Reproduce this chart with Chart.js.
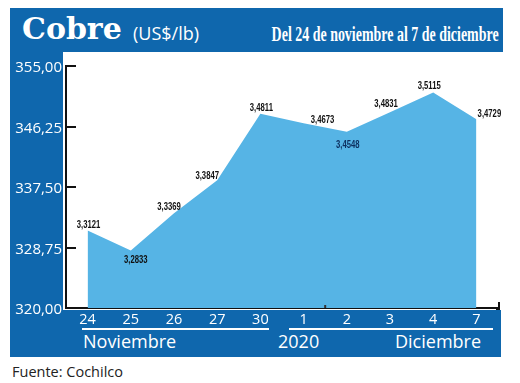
<!DOCTYPE html>
<html lang="es">

<head>
  <meta charset="UTF-8" />
  <title>Cobre (US$/lb)</title>
  <script src="https://cdn.jsdelivr.net/npm/chart.js@4.4.1/dist/chart.umd.min.js"></script>
  <style>
    body { margin: 0; background: #fff; }
    #wrap { position: relative; width: 520px; height: 383px; overflow: hidden; }
    .band { position: absolute; background: #0f67ad; }
    .txt { position: absolute; white-space: nowrap; line-height: 1; }
    .rule { position: absolute; height: 2px; background: #fff; }
    canvas { position: absolute; left: 0; top: 0; }
  </style>
</head>

<body>
  <div id="wrap">
    <div class="band" style="left:10px; top:8px; width:493px; height:44px;"></div>
    <div class="band" style="left:10px; top:8px; width:53px; height:349px;"></div>
    <div class="band" style="left:10px; top:310px; width:491px; height:47px;"></div>

    <div class="txt" style="left:22px; top:11px; font: bold 30px 'DejaVu Serif', serif; color:#fff;">Cobre</div>
    <div class="txt" style="left:133px; top:21px; font: 18px 'Open Sans', sans-serif; color:#fff;">(US$/lb)</div>
    <div class="txt" id="subtitle" style="right:21px; top:22px; font: bold 21px 'Liberation Serif', serif; color:#fff; transform-origin: right center;">Del 24 de noviembre al 7 de diciembre</div>

    <div class="rule" style="left:82px; top:328px; width:187px;"></div>
    <div class="rule" style="left:289px; top:328px; width:204px;"></div>
    <div class="txt" style="left:83px; top:329px; font: 18px 'Open Sans', sans-serif; color:#fff;">Noviembre</div>
    <div class="txt" style="left:278px; top:329px; font: 18px 'Open Sans', sans-serif; color:#fff;">2020</div>
    <div class="txt" style="left:395px; top:329px; font: 18px 'Open Sans', sans-serif; color:#fff;">Diciembre</div>

    <div class="txt" style="left:12px; top:362px; font: 14.5px 'Open Sans', sans-serif; color:#222;">Fuente: Cochilco</div>

    <canvas id="myChart" width="520" height="383"></canvas>
  </div>

  <script>
    // dias del periodo (24 nov - 7 dic 2020)
    const days = ['24', '25', '26', '27', '30', '1', '2', '3', '4', '7'];
    // precio del cobre, US$/lb
    const prices = [3.3121, 3.2833, 3.3369, 3.3847, 3.4811, 3.4673, 3.4548, 3.4831, 3.5115, 3.4729];
    // eje y en centavos
    const yMin = 320;
    const yMax = 355;
    const yStep = 8.75;

    // where each value label sits relative to its point [dx, dy]
    const labelShift = [[1, -6], [5, 10], [-5, -6], [-10, -4], [1, -6], [19, -3], [1, 13], [-4, -8], [-4, -7], [13, -5]];

    const comma = (v, d) => v.toFixed(d).replace('.', ',');

    // squeeze the subtitle to its width in the original
    const sub = document.getElementById('subtitle');
    sub.style.transform = 'scaleX(' + (227 / sub.getBoundingClientRect().width) + ')';

    const decor = {
      id: 'decor',
      afterDraw(chart) {
        const { ctx, chartArea, scales: { x, y } } = chart;
        ctx.save();
        ctx.strokeStyle = '#111';
        ctx.lineWidth = 2;
        // inward tick marks on the y axis
        y.ticks.forEach(t => {
          const py = Math.round(y.getPixelForValue(t.value));
          ctx.beginPath();
          ctx.moveTo(chartArea.left - 1, py);
          ctx.lineTo(chartArea.left + 10, py);
          ctx.stroke();
        });
        // right end of the x axis
        const b = chartArea.bottom + 1;
        ctx.beginPath();
        ctx.moveTo(chartArea.right - 2, b);
        ctx.lineTo(chartArea.right + 1, b);
        ctx.lineTo(chartArea.right + 1, b - 7);
        ctx.stroke();
        // small mark between 1 and 2
        const mx = (x.getPixelForValue(5) + x.getPixelForValue(6)) / 2;
        ctx.fillStyle = '#333';
        ctx.fillRect(mx - 1, b - 4, 2, 3);

        // value labels
        const pts = chart.getDatasetMeta(0).data;
        ctx.font = "bold 11px 'Liberation Sans', sans-serif";
        ctx.textAlign = 'center';
        ctx.textBaseline = 'middle';
        pts.forEach((p, i) => {
          ctx.save();
          ctx.translate(p.x + labelShift[i][0], p.y + labelShift[i][1]);
          ctx.scale(0.7, 1);
          ctx.fillStyle = i === 6 ? '#0d2f5e' : '#111';
          ctx.fillText(comma(prices[i], 4), 0, 0);
          ctx.restore();
        });
        ctx.restore();
      }
    };

    new Chart(document.getElementById('myChart'), {
      type: 'line',
      data: {
        labels: days,
        datasets: [{
          data: prices.map(p => p * 100),
          fill: 'start',
          backgroundColor: '#56b4e5',
          borderWidth: 0,
          pointRadius: 0,
          tension: 0
        }]
      },
      options: {
        responsive: false,
        devicePixelRatio: 1,
        animation: false,
        layout: { padding: { left: 10, right: 22, top: 66, bottom: 50 } },
        plugins: { legend: { display: false }, tooltip: { enabled: false } },
        scales: {
          x: {
            offset: true,
            grid: { display: false, drawTicks: false },
            border: { color: '#111', width: 2 },
            ticks: {
              color: '#fff',
              padding: 3,
              maxRotation: 0,
              font: { family: "'Open Sans', sans-serif", size: 14.5 }
            },
            afterFit(scale) { scale.height = 25; }
          },
          y: {
            min: yMin,
            max: yMax,
            grid: { display: false, drawTicks: false },
            border: { color: '#111', width: 2 },
            ticks: {
              stepSize: yStep,
              color: '#fff',
              padding: 4,
              labelOffset: 2,
              font: { family: "'Open Sans', sans-serif", size: 15 },
              callback: v => comma(v, 2)
            },
            afterFit(scale) { scale.width = 56; }
          }
        }
      },
      plugins: [decor]
    });
  </script>
</body>

</html>
